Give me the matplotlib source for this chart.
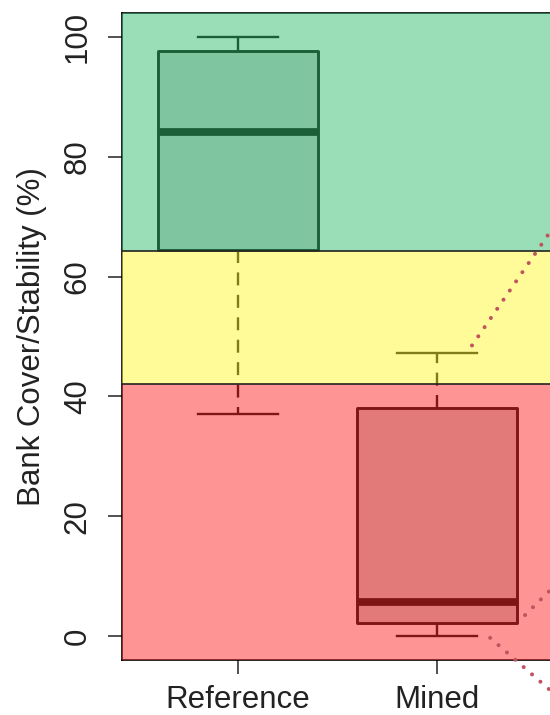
import matplotlib
matplotlib.use("Agg")
import matplotlib.pyplot as plt

plt.rcParams["font.family"] = ["Liberation Sans", "DejaVu Sans"]

# Group summaries (percent)
groups = ["Reference", "Mined"]
whisker_low = [37.0, 0.0]
quartile_1 = [64.4, 2.2]
medians = [84.2, 5.7]
quartile_3 = [97.6, 38.1]
whisker_high = [100.0, 47.2]

# Condition bands: (lower, upper, colour)
band_lower = [-4.0, 42.0, 64.3]
band_upper = [42.0, 64.3, 104.0]
band_colors = ["#FF2A2A", "#FFF833", "#37BF73"]

y_ticks = [0, 20, 40, 60, 80, 100]

fig = plt.figure(figsize=(5.5, 7.15), dpi=100)
ax = fig.add_axes([122 / 550, 55 / 715, 431 / 550, 647 / 715])

stats = []
for i, name in enumerate(groups):
    stats.append(dict(label=name, whislo=whisker_low[i], q1=quartile_1[i],
                      med=medians[i], q3=quartile_3[i], whishi=whisker_high[i],
                      fliers=[]))

ax.bxp(stats, positions=[1, 2], widths=0.8, patch_artist=True,
       showfliers=False,
       boxprops=dict(facecolor="#C8CCCC", edgecolor="black", linewidth=2.1,
                     joinstyle="round"),
       medianprops=dict(color="black", linewidth=5.6, solid_capstyle="butt"),
       whiskerprops=dict(color="black", linewidth=1.7, linestyle=(0, (5.5, 4))),
       capprops=dict(color="black", linewidth=1.7))

ax.set_xlim(0.42, 2.58)
ax.set_ylim(-4, 104)

# Translucent condition bands laid over the boxes
for lo, hi, col in zip(band_lower, band_upper, band_colors):
    ax.axhspan(lo, hi, facecolor=col, alpha=0.5, edgecolor="none", zorder=5)
for edge in band_lower[1:]:
    ax.axhline(edge, color="#222222", linewidth=1.2, zorder=6)

for s in ax.spines.values():
    s.set_color("black")
    s.set_linewidth(1.2)
    s.set_zorder(4)

ax.set_yticks(y_ticks)
ax.set_yticklabels([str(v) for v in y_ticks], rotation=90, va="center")
ax.set_xticks([1, 2])
ax.set_xticklabels(groups)
ax.tick_params(axis="both", length=10, width=1.2, color="#333333",
               labelsize=22.5, colors="#222222")
ax.tick_params(axis="y", pad=11)
ax.tick_params(axis="x", pad=8)

ax.set_ylabel("Bank Cover/Stability (%)", fontsize=22.5, color="#222222")
ax.yaxis.set_label_coords(-0.175, 0.5)

# Dotted connector lines leading off to the right
conn_start_x = [2.174, 2.44, 2.265]
conn_start_y = [48.5, 3.5, -0.3]
conn_end_x = [2.62, 2.62, 2.64]
conn_end_y = [70.1, 9.45, -11.2]
for x0, y0, x1, y1 in zip(conn_start_x, conn_start_y, conn_end_x, conn_end_y):
    ax.plot([x0, x1], [y0, y1], color="#C0535E", linewidth=2.9,
            linestyle=(0, (0.01, 2.75)), dash_capstyle="round",
            clip_on=False, zorder=8)

fig.savefig("out.png", dpi=100)
